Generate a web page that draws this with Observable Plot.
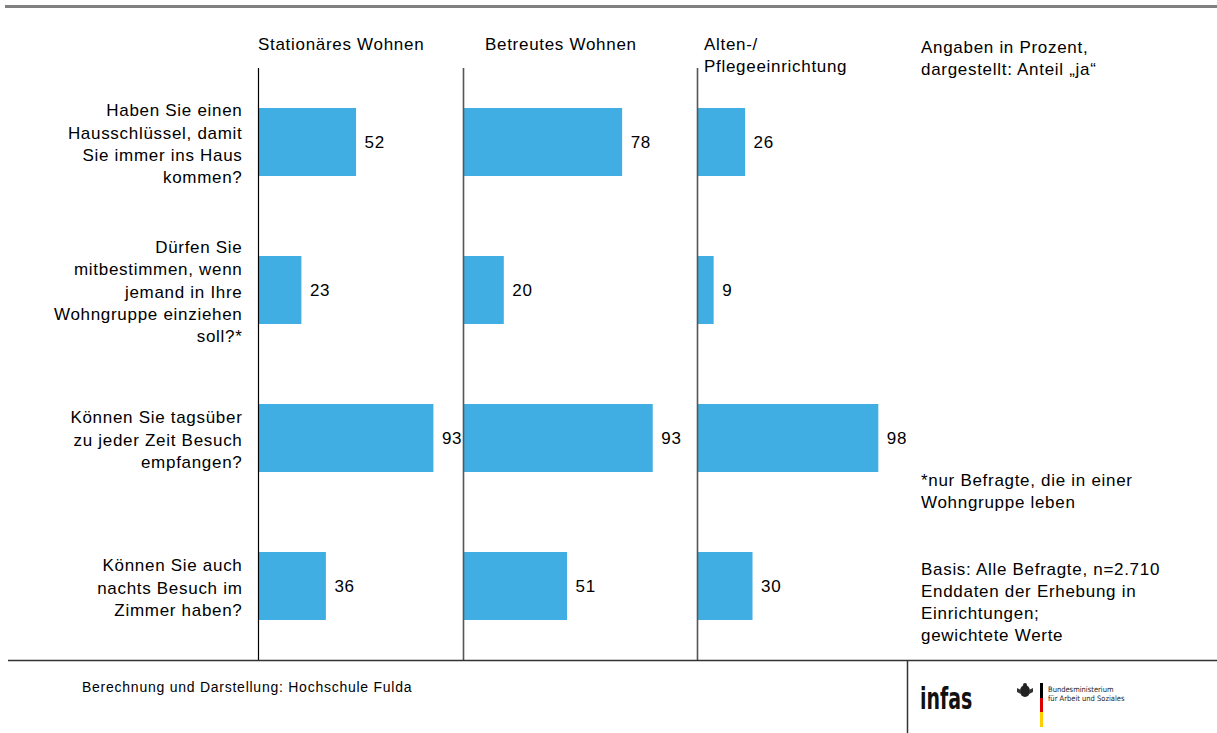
<!DOCTYPE html>
<html><head><meta charset="utf-8">
<script src="https://cdn.jsdelivr.net/npm/d3@7"></script>
<script src="https://cdn.jsdelivr.net/npm/@observablehq/plot@0.6"></script>
<style>
html,body{margin:0;padding:0;background:#fff;}
#root{position:relative;width:1217px;height:733px;overflow:hidden;font-family:"Liberation Sans",Arial,sans-serif;color:#000;}
.t{position:absolute;font-size:17px;letter-spacing:0.7px;line-height:22px;white-space:pre;}
.panel{position:absolute;top:68px;}
.panel text{letter-spacing:0.7px;}
</style></head>
<body><div id="root"></div>
<script>
const questions = [
  "Haben Sie einen\nHausschlüssel, damit\nSie immer ins Haus\nkommen?",
  "Dürfen Sie\nmitbestimmen, wenn\njemand in Ihre\nWohngruppe einziehen\nsoll?*",
  "Können Sie tagsüber\nzu jeder Zeit Besuch\nempfangen?",
  "Können Sie auch\nnachts Besuch im\nZimmer haben?"
];
const columns = ["Stationäres Wohnen", "Betreutes Wohnen", "Alten-/\nPflegeeinrichtung"];
const stationaer = [52, 23, 93, 36];
const betreut = [78, 20, 93, 51];
const pflege = [26, 9, 98, 30];
const noteTop = "Angaben in Prozent,\ndargestellt: Anteil „ja“";
const noteStar = "*nur Befragte, die in einer\nWohngruppe leben";
const noteBase = "Basis: Alle Befragte, n=2.710\nEnddaten der Erhebung in\nEinrichtungen;\ngewichtete Werte";
const source = "Berechnung und Darstellung: Hochschule Fulda";

const root = document.getElementById("root");
const FONT = "'Liberation Sans', Arial, sans-serif";

function panel({values, width, marginLeft, xmax, axis, ruleColor, ruleWidth}) {
  const data = questions.map((q, i) => ({q, v: values[i]}));
  return Plot.plot({
    width, height: 592,
    marginTop: 0, marginBottom: 0, marginLeft, marginRight: 0,
    x: {domain: [0, xmax], axis: null},
    y: {domain: questions, paddingInner: 0.542, paddingOuter: 0.264, axis: null},
    style: {fontFamily: FONT, fontSize: "17px", color: "#000", background: "transparent", overflow: "visible"},
    marks: [
      axis ? Plot.axisY({tickSize: 0, tickPadding: 16, lineHeight: 1.3, fontSize: 17, textAnchor: "end", fill: "#000", label: null}) : null,
      Plot.barX(data, {x: "v", y: "q", fill: "#41aee3"}),
      Plot.ruleX([0], {stroke: ruleColor, strokeWidth: ruleWidth}),
      Plot.text(data, {x: "v", y: "q", text: d => String(d.v), textAnchor: "start", dx: 8, fontSize: 17, fill: "#000"})
    ]
  });
}

function place(el, left) { el.classList.add("panel"); el.style.left = left + "px"; root.appendChild(el); }
place(panel({values: stationaer, width: 463, marginLeft: 258, xmax: 108.7, axis: true, ruleColor: "#000", ruleWidth: 1.2}), 0);
place(panel({values: betreut, width: 234, marginLeft: 0, xmax: 114.7, axis: false, ruleColor: "#555", ruleWidth: 1.6}), 463);
place(panel({values: pflege, width: 210, marginLeft: 0, xmax: 113.5, axis: false, ruleColor: "#555", ruleWidth: 1.6}), 697);

function txt(s, left, top, extra) {
  const d = document.createElement("div");
  d.className = "t"; d.textContent = s;
  d.style.left = left + "px"; d.style.top = top + "px";
  if (extra) Object.assign(d.style, extra);
  root.appendChild(d); return d;
}
txt(columns[0], 258, 34);
txt(columns[1], 485, 34);
txt(columns[2], 704, 34);
txt(noteTop, 921, 37);
txt(noteStar, 921, 470);
txt(noteBase, 921, 559);
txt(source, 82, 678, {fontSize: "14px", letterSpacing: "0.75px", lineHeight: "18px"});

// frame lines and logos
const ns = "http://www.w3.org/2000/svg";
const svg = document.createElementNS(ns, "svg");
svg.setAttribute("width", 1217); svg.setAttribute("height", 733);
svg.style.position = "absolute"; svg.style.left = "0"; svg.style.top = "0"; svg.style.pointerEvents = "none";
svg.innerHTML = `
  <line x1="5" x2="1217" y1="6.5" y2="6.5" stroke="#808080" stroke-width="3"/>
  <line x1="8" x2="1217" y1="660.5" y2="660.5" stroke="#333" stroke-width="1.5"/>
  <line x1="907.5" x2="907.5" y1="660" y2="733" stroke="#333" stroke-width="1.5"/>
  <text x="920" y="709" font-family="'DejaVu Sans Condensed','DejaVu Sans',sans-serif" font-weight="bold" font-size="31" fill="#111" transform="translate(920 0) scale(0.68 1) translate(-920 0)">infas</text>
  <g transform="translate(1025 691)">
    <ellipse cx="0" cy="0" rx="5" ry="6" fill="#222"/>
    <path d="M-8,-3 L-4,-1 L-4,3 L-8,1 Z M8,-3 L4,-1 L4,3 L8,1 Z" fill="#333"/>
    <circle cx="0" cy="-6" r="2" fill="#222"/>
  </g>
  <rect x="1040" y="683" width="3" height="15" fill="#000"/>
  <rect x="1040" y="698" width="3" height="14" fill="#dd0000"/>
  <rect x="1040" y="712" width="3" height="15" fill="#ffce00"/>
  <text x="1048" y="692" font-family="'DejaVu Sans Condensed','DejaVu Sans',sans-serif" font-size="7.5" fill="#222">Bundesministerium</text>
  <text x="1048" y="701" font-family="'DejaVu Sans Condensed','DejaVu Sans',sans-serif" font-size="7.5" fill="#222">für Arbeit und Soziales</text>
`;
root.appendChild(svg);
</script>
</body></html>
